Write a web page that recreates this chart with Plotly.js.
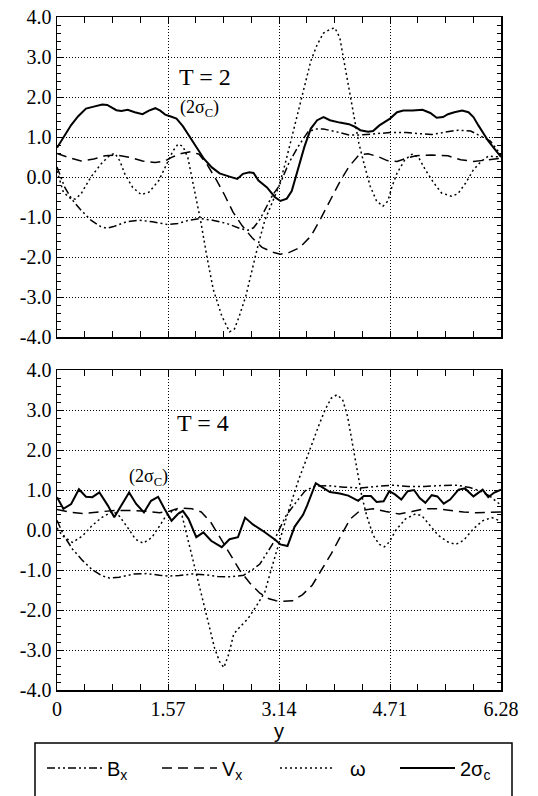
<!DOCTYPE html>
<html>
<head>
<meta charset="utf-8">
<script src="https://cdn.plot.ly/plotly-3.0.1.min.js"></script>
<style>html,body{margin:0;padding:0;background:#fff;}#chart{width:538px;height:796px;}</style>
</head>
<body>
<div id="chart"></div>
<script>
// ---------- data ----------
const xTickVals = [0, 1.57, 3.14, 4.71, 6.28];
const xTickText = ["0", "1.57", "3.14", "4.71", "6.28"];
const yTickVals = [-4, -3, -2, -1, 0, 1, 2, 3, 4];
const yTickText = ["-4.0", "-3.0", "-2.0", "-1.0", "0.0", "1.0", "2.0", "3.0", "4.0"];
const seriesNames = ["B<sub>x</sub>", "V<sub>x</sub>", "\u2002\u03c9", "2\u03c3<sub>c</sub>"];

// T = 2
const t2_bx_x = [0,0.11,0.22,0.34,0.48,0.62,0.70,0.80,0.98,1.16,1.35,1.57,1.71,1.85,2.02,2.20,2.40,2.59,2.70,2.78,2.87,2.97,3.05,3.14,3.28,3.41,3.55,3.66,3.77,3.95,4.13,4.27,4.45,4.71,4.94,5.17,5.30,5.49,5.67,5.85,6.00,6.13,6.28];
const t2_bx_y = [0.25,-0.26,-0.58,-0.83,-1.08,-1.24,-1.28,-1.24,-1.12,-1.08,-1.12,-1.19,-1.16,-1.09,-1.04,-1.08,-1.16,-1.29,-1.33,-1.27,-1.06,-0.72,-0.45,-0.23,0.35,0.76,1.13,1.20,1.20,1.13,1.05,1.05,1.07,1.11,1.11,1.09,1.06,1.12,1.17,1.15,1.02,0.90,0.55];

const t2_vx_x = [0,0.16,0.34,0.52,0.68,0.84,1.03,1.21,1.39,1.53,1.62,1.76,1.89,2.01,2.12,2.26,2.37,2.49,2.62,2.76,2.90,3.05,3.16,3.28,3.43,3.59,3.73,3.86,4.00,4.13,4.27,4.40,4.54,4.67,4.81,4.94,5.08,5.30,5.53,5.71,5.89,6.10,6.28];
const t2_vx_y = [0.59,0.49,0.40,0.45,0.53,0.55,0.49,0.40,0.36,0.40,0.49,0.59,0.63,0.57,0.32,-0.09,-0.45,-0.88,-1.22,-1.52,-1.76,-1.88,-1.93,-1.89,-1.77,-1.48,-1.04,-0.58,-0.12,0.26,0.55,0.58,0.51,0.41,0.39,0.47,0.53,0.55,0.53,0.43,0.39,0.43,0.47];

const t2_w_x = [0,0.09,0.20,0.26,0.34,0.48,0.62,0.75,0.82,0.89,0.96,1.07,1.19,1.30,1.44,1.55,1.64,1.71,1.78,1.85,1.94,2.03,2.12,2.21,2.33,2.44,2.51,2.58,2.67,2.76,2.85,2.94,3.04,3.14,3.23,3.32,3.41,3.50,3.59,3.68,3.77,3.86,3.93,4.00,4.06,4.13,4.20,4.27,4.34,4.43,4.52,4.61,4.68,4.74,4.81,4.92,5.03,5.12,5.21,5.33,5.44,5.58,5.67,5.78,5.89,6.00,6.10,6.28];
const t2_w_y = [0.15,-0.38,-0.55,-0.55,-0.42,0.00,0.32,0.55,0.59,0.40,0.07,-0.26,-0.44,-0.38,-0.09,0.32,0.65,0.82,0.77,0.49,-0.26,-1.08,-1.99,-2.81,-3.47,-3.87,-3.80,-3.47,-2.98,-2.32,-1.66,-1.08,-0.67,-0.23,0.35,1.00,1.67,2.32,2.90,3.31,3.60,3.69,3.73,3.48,2.90,2.24,1.50,0.84,0.35,-0.23,-0.60,-0.73,-0.60,-0.23,0.10,0.43,0.58,0.47,0.18,-0.15,-0.40,-0.48,-0.42,-0.15,0.18,0.39,0.52,0.50];

const t2_s_x = [0,0.11,0.20,0.30,0.41,0.52,0.64,0.71,0.78,0.84,0.91,1.00,1.10,1.21,1.30,1.39,1.46,1.53,1.60,1.69,1.78,1.87,1.99,2.08,2.19,2.30,2.44,2.55,2.63,2.72,2.78,2.85,2.97,3.08,3.16,3.25,3.32,3.41,3.50,3.59,3.68,3.77,3.86,4.00,4.13,4.22,4.29,4.40,4.47,4.56,4.71,4.81,4.90,5.03,5.17,5.28,5.37,5.46,5.53,5.62,5.73,5.82,5.89,5.96,6.03,6.10,6.20,6.28];
const t2_s_y = [0.73,1.06,1.30,1.52,1.71,1.76,1.81,1.80,1.74,1.67,1.65,1.68,1.62,1.57,1.66,1.72,1.66,1.56,1.52,1.46,1.27,1.02,0.69,0.45,0.24,0.09,0.01,-0.05,0.08,0.12,0.10,-0.09,-0.26,-0.50,-0.60,-0.54,-0.35,0.18,0.76,1.21,1.42,1.50,1.42,1.36,1.32,1.25,1.17,1.13,1.15,1.29,1.46,1.62,1.66,1.66,1.68,1.60,1.48,1.50,1.57,1.62,1.66,1.62,1.50,1.29,1.09,0.90,0.68,0.50];

// T = 4
const t4_bx_x = [0,0.10,0.22,0.36,0.49,0.63,0.74,0.88,1.09,1.27,1.45,1.57,1.73,1.91,2.09,2.27,2.46,2.64,2.76,2.87,2.96,3.05,3.14,3.24,3.38,3.51,3.65,3.83,4.06,4.29,4.52,4.75,4.97,5.20,5.43,5.66,5.84,5.98,6.12,6.28];
const t4_bx_y = [0.24,-0.15,-0.48,-0.76,-0.98,-1.14,-1.20,-1.18,-1.10,-1.09,-1.13,-1.15,-1.14,-1.10,-1.12,-1.16,-1.17,-1.13,-1.00,-0.85,-0.60,-0.35,0.00,0.36,0.69,0.98,1.10,1.11,1.07,1.05,1.09,1.12,1.09,1.09,1.11,1.12,1.06,0.98,0.85,0.62];

const t4_vx_x = [0,0.17,0.36,0.58,0.81,1.04,1.27,1.45,1.59,1.73,1.91,2.04,2.18,2.32,2.46,2.59,2.73,2.87,3.00,3.10,3.19,3.33,3.47,3.61,3.74,3.88,4.02,4.15,4.29,4.47,4.65,4.84,5.02,5.20,5.39,5.57,5.75,5.93,6.12,6.28];
const t4_vx_y = [0.51,0.45,0.41,0.45,0.49,0.49,0.47,0.43,0.47,0.55,0.53,0.45,0.18,-0.23,-0.64,-1.02,-1.33,-1.58,-1.72,-1.77,-1.78,-1.77,-1.62,-1.38,-1.00,-0.59,-0.13,0.28,0.49,0.53,0.46,0.40,0.46,0.53,0.53,0.49,0.45,0.43,0.45,0.45];

const t4_w_x = [0,0.08,0.22,0.36,0.49,0.63,0.79,0.88,1.00,1.11,1.22,1.34,1.45,1.54,1.63,1.70,1.77,1.86,1.95,2.04,2.14,2.23,2.30,2.36,2.43,2.50,2.60,2.70,2.82,2.94,3.02,3.14,3.24,3.33,3.42,3.51,3.61,3.70,3.79,3.88,3.96,4.04,4.11,4.18,4.24,4.31,4.38,4.47,4.56,4.63,4.70,4.79,4.93,5.07,5.16,5.25,5.39,5.53,5.64,5.75,5.89,6.02,6.15,6.28];
const t4_w_y = [0.05,-0.15,-0.31,-0.15,0.10,0.31,0.47,0.35,0.06,-0.23,-0.33,-0.19,0.10,0.35,0.47,0.51,0.35,-0.31,-0.98,-1.64,-2.30,-2.96,-3.29,-3.44,-3.10,-2.60,-2.40,-2.22,-1.90,-1.55,-1.05,-0.30,0.28,0.78,1.27,1.69,2.18,2.60,3.00,3.30,3.38,3.26,2.84,2.18,1.52,0.86,0.36,-0.13,-0.36,-0.42,-0.30,-0.01,0.28,0.40,0.36,0.16,-0.13,-0.30,-0.36,-0.26,0.03,0.23,0.31,0.22];

const t4_s_x = [0,0.09,0.20,0.31,0.41,0.50,0.60,0.72,0.81,0.91,1.02,1.12,1.23,1.33,1.43,1.52,1.62,1.71,1.78,1.86,1.97,2.07,2.18,2.33,2.44,2.56,2.66,2.77,2.91,3.09,3.16,3.26,3.36,3.48,3.54,3.66,3.76,3.86,4.00,4.12,4.26,4.34,4.44,4.52,4.62,4.70,4.78,4.87,4.96,5.05,5.13,5.21,5.30,5.38,5.47,5.56,5.68,5.77,5.89,6.02,6.10,6.18,6.28];
const t4_s_y = [0.82,0.53,0.65,1.02,0.83,0.82,0.94,0.61,0.32,0.61,0.94,0.65,0.44,0.73,0.83,0.53,0.23,0.40,0.48,0.28,-0.18,-0.06,-0.27,-0.43,-0.23,-0.18,0.31,0.14,-0.02,-0.25,-0.36,-0.40,0.08,0.38,0.62,1.17,1.05,0.95,0.91,0.86,0.73,0.85,0.85,0.70,0.72,0.97,0.89,0.76,0.97,1.00,0.80,0.68,0.87,0.84,0.66,0.76,1.01,1.04,0.84,1.01,0.82,0.93,1.01];

// ---------- styles ----------
const dashes = ["8px,3px,2px,3px,2px,3px", "10px,6px", "2px,3px", "solid"];
const widths = [1.5, 1.5, 1.5, 2];
const legendIds = ['legend', 'legend2', 'legend3', 'legend4'];

function mk(x, y, k, xa, ya, showleg) {
  return {x: x, y: y, type: 'scatter', mode: 'lines', name: seriesNames[k],
    xaxis: xa, yaxis: ya, showlegend: showleg, legend: legendIds[k],
    line: {color: '#000', width: widths[k], dash: dashes[k]}, hoverinfo: 'skip'};
}

const data = [
  mk(t2_bx_x, t2_bx_y, 0, 'x', 'y', true),
  mk(t2_vx_x, t2_vx_y, 1, 'x', 'y', true),
  mk(t2_w_x, t2_w_y, 2, 'x', 'y', true),
  mk(t2_s_x, t2_s_y, 3, 'x', 'y', true),
  mk(t4_bx_x, t4_bx_y, 0, 'x2', 'y2', false),
  mk(t4_vx_x, t4_vx_y, 1, 'x2', 'y2', false),
  mk(t4_w_x, t4_w_y, 2, 'x2', 'y2', false),
  mk(t4_s_x, t4_s_y, 3, 'x2', 'y2', false)
];

const serif = 'Liberation Serif';
const sans = 'Liberation Sans';
const H = 796;

function xax(anchor, labels) {
  return {anchor: anchor, domain: [0, 1], range: [0, 6.28], tickmode: 'array',
    tickvals: xTickVals, ticktext: xTickText, showticklabels: labels,
    ticks: 'inside', ticklen: 6, tickwidth: 1, tickcolor: '#000',
    showgrid: true, gridcolor: '#000', gridwidth: 1, griddash: '1px,2px',
    zeroline: false, showline: true, linecolor: '#000', linewidth: 1.5, mirror: 'allticks',
    tickfont: {family: serif, size: 20, color: '#000'},
    minor: {tickmode: 'linear', tick0: 0, dtick: 0.3925, ticks: 'inside', ticklen: 6, tickcolor: '#000', tickwidth: 1, showgrid: false},
    fixedrange: true};
}
function yax(anchor, dom) {
  return {anchor: anchor, domain: dom, range: [-4, 4], tickmode: 'array',
    tickvals: yTickVals, ticktext: yTickText,
    ticks: 'inside', ticklen: 7, tickwidth: 1, tickcolor: '#000',
    showgrid: true, gridcolor: '#000', gridwidth: 1, griddash: '1px,2px',
    zeroline: false, showline: true, linecolor: '#000', linewidth: 1.5, mirror: 'allticks',
    tickfont: {family: serif, size: 20, color: '#000'},
    minor: {tickmode: 'linear', tick0: 0, dtick: 0.2, ticks: 'inside', ticklen: 4, tickcolor: '#000', tickwidth: 1, showgrid: false},
    fixedrange: true};
}

const xb = xax('y2', true);
xb.title = {text: 'y', font: {family: sans, size: 20, color: '#000'}, standoff: 0};

function leg(px) {
  return {orientation: 'h', x: (px - 57) / 444, xanchor: 'left', y: 1 - 768 / H, yanchor: 'middle',
    font: {family: sans, size: 20, color: '#000'}, itemwidth: 55,
    bgcolor: 'rgba(0,0,0,0)', borderwidth: 0, itemclick: false, itemdoubleclick: false};
}

const layout = {
  width: 538, height: H,
  margin: {l: 57, r: 37, t: 0, b: 0, autoexpand: false},
  paper_bgcolor: '#fff', plot_bgcolor: '#fff',
  xaxis: xax('y', false),
  yaxis: yax('x', [1 - 337 / H, 1 - 17 / H]),
  xaxis2: xb,
  yaxis2: yax('x2', [1 - 690 / H, 1 - 370 / H]),
  showlegend: true,
  legend: leg(42), legend2: leg(157), legend3: leg(275), legend4: leg(395),
  shapes: [{type: 'rect', xref: 'paper', yref: 'paper',
    x0: (35 - 57) / 444, x1: (512 - 57) / 444, y0: 1 - 743 / H, y1: -0.05,
    line: {color: '#000', width: 1.5}, fillcolor: 'rgba(0,0,0,0)'}],
  annotations: [
    {xref: 'x', yref: 'y', x: 2.09, y: 2.5, text: 'T = 2', showarrow: false, font: {family: serif, size: 24, color: '#000'}},
    {xref: 'x', yref: 'y', x: 2.02, y: 1.72, text: '(2\u03c3<sub>C</sub>)', showarrow: false, font: {family: serif, size: 18, color: '#000'}},
    {xref: 'x2', yref: 'y2', x: 2.07, y: 2.68, text: 'T = 4', showarrow: false, font: {family: serif, size: 24, color: '#000'}},
    {xref: 'x2', yref: 'y2', x: 1.30, y: 1.30, text: '(2\u03c3<sub>C</sub>)', showarrow: false, font: {family: serif, size: 18, color: '#000'}}
  ]
};

Plotly.newPlot('chart', data, layout, {staticPlot: true, displayModeBar: false});
</script>
</body>
</html>
